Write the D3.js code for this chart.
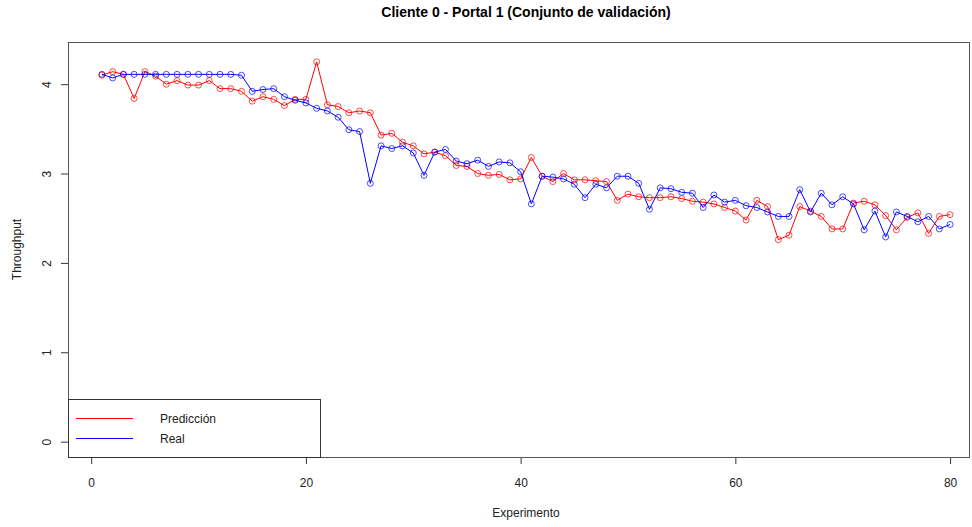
<!DOCTYPE html>
<html>
<head>
<meta charset="utf-8">
<script src="https://cdn.jsdelivr.net/npm/d3@7"></script>
<style>
  html, body { margin: 0; padding: 0; background: #fff; }
  svg { display: block; }
  text { font-family: "Liberation Sans", Arial, sans-serif; fill: #222; }
</style>
</head>
<body>
<svg id="chart" width="972" height="527"></svg>
<script>
// Throughput per experiment: model prediction vs. measured value
const experimentos = d3.range(1, 81);
const prediccion = [
  4.10, 4.14, 4.11, 3.84, 4.14, 4.09, 4.00, 4.04, 3.99, 3.99,
  4.04, 3.95, 3.95, 3.92, 3.81, 3.86, 3.83, 3.76, 3.83, 3.83,
  4.25, 3.77, 3.75, 3.68, 3.70, 3.68, 3.43, 3.45, 3.35, 3.31,
  3.22, 3.24, 3.20, 3.09, 3.08, 3.00, 2.98, 2.99, 2.93, 2.94,
  3.18, 2.97, 2.91, 3.00, 2.93, 2.93, 2.92, 2.91, 2.70, 2.77,
  2.74, 2.73, 2.73, 2.74, 2.72, 2.69, 2.68, 2.66, 2.62, 2.58,
  2.48, 2.70, 2.63, 2.26, 2.31, 2.63, 2.58, 2.52, 2.38, 2.38,
  2.67, 2.69, 2.65, 2.53, 2.37, 2.51, 2.56, 2.33, 2.52, 2.54
];
const real = [
  4.11, 4.07, 4.11, 4.11, 4.11, 4.11, 4.11, 4.11, 4.11, 4.11,
  4.11, 4.11, 4.11, 4.10, 3.92, 3.94, 3.95, 3.86, 3.82, 3.79,
  3.73, 3.70, 3.63, 3.49, 3.47, 2.89, 3.31, 3.28, 3.31, 3.23,
  2.98, 3.24, 3.27, 3.14, 3.11, 3.15, 3.08, 3.13, 3.12, 3.02,
  2.66, 2.97, 2.96, 2.94, 2.88, 2.73, 2.88, 2.84, 2.97, 2.97,
  2.89, 2.60, 2.84, 2.83, 2.79, 2.78, 2.62, 2.76, 2.68, 2.70,
  2.64, 2.62, 2.57, 2.52, 2.52, 2.82, 2.57, 2.78, 2.65, 2.74,
  2.66, 2.37, 2.58, 2.29, 2.57, 2.52, 2.46, 2.52, 2.38, 2.43
];
const xTicks = [0, 20, 40, 60, 80];
const yTicks = [0, 1, 2, 3, 4];
const series = [
  { name: "Predicción", values: prediccion, color: "#FF0000" },
  { name: "Real", values: real, color: "#0000FF" }
];

const svg = d3.select("#chart");
const plot = { left: 68, right: 984, top: 42, bottom: 457 };
const visibleRight = 969;

const x = d3.scaleLinear().domain([-2.16, 83.16]).range([plot.left, plot.right]);
const y = d3.scaleLinear().domain([-0.172, 4.472]).range([plot.bottom, plot.top]);

// Title
svg.append("text")
  .attr("x", (plot.left + plot.right) / 2).attr("y", 17)
  .attr("text-anchor", "middle")
  .style("font-weight", "bold").style("font-size", "14px")
  .style("fill", "#000")
  .text("Cliente 0 - Portal 1 (Conjunto de validación)");

// Axes
const xAxis = d3.axisBottom(x).tickValues(xTicks).tickSize(7).tickPadding(14).tickFormat(d3.format("d"));
const gx = svg.append("g").attr("transform", `translate(0,${plot.bottom})`).call(xAxis);
gx.select(".domain").remove();
gx.selectAll(".tick line").attr("stroke", "#333");
gx.selectAll(".tick text").style("font-size", "12px").style("font-family", "Liberation Sans, Arial, sans-serif").attr("fill", "#222");

const yAxis = d3.axisLeft(y).tickValues(yTicks).tickSize(7).tickFormat(d3.format("d"));
const gy = svg.append("g").attr("transform", `translate(${plot.left},0)`).call(yAxis);
gy.select(".domain").remove();
gy.selectAll(".tick line").attr("stroke", "#333");
gy.selectAll(".tick text")
  .style("font-size", "12px").style("font-family", "Liberation Sans, Arial, sans-serif").attr("fill", "#222")
  .attr("x", 0).attr("dy", 0)
  .attr("text-anchor", "middle")
  .attr("transform", "translate(-17,0) rotate(-90)");

// Axis titles
svg.append("text")
  .attr("x", (plot.left + plot.right) / 2).attr("y", 517)
  .attr("text-anchor", "middle").style("font-size", "12px")
  .text("Experimento");
svg.append("text")
  .attr("transform", `translate(21,${(plot.top + plot.bottom) / 2}) rotate(-90)`)
  .attr("text-anchor", "middle").style("font-size", "12px")
  .text("Throughput");

// Series lines and open circles
const line = d3.line().x((d, i) => x(experimentos[i])).y(d => y(d));
series.forEach(s => {
  const g = svg.append("g");
  g.append("path")
    .attr("d", line(s.values))
    .attr("fill", "none").attr("stroke", s.color).attr("stroke-width", 1);
  g.selectAll("circle").data(s.values).join("circle")
    .attr("cx", (d, i) => x(experimentos[i]))
    .attr("cy", d => y(d))
    .attr("r", 3)
    .attr("fill", "none").attr("stroke", s.color).attr("stroke-opacity", 0.7).attr("stroke-width", 1);
});

// Plot frame
svg.append("rect")
  .attr("x", plot.left + 0.5).attr("y", plot.top + 0.5)
  .attr("width", visibleRight - plot.left).attr("height", plot.bottom - plot.top)
  .attr("fill", "none").attr("stroke", "#555").attr("stroke-width", 1);

// Legend
const leg = svg.append("g");
leg.append("rect")
  .attr("x", plot.left + 0.5).attr("y", 399.5)
  .attr("width", 320 - plot.left).attr("height", plot.bottom - 399)
  .attr("fill", "#fff").attr("stroke", "#333").attr("stroke-width", 1);
series.forEach((s, i) => {
  const ly = 418.5 + i * 20;
  leg.append("line")
    .attr("x1", 76).attr("x2", 133).attr("y1", ly).attr("y2", ly)
    .attr("stroke", s.color).attr("stroke-width", 1);
  leg.append("text")
    .attr("x", 160).attr("y", ly + 4.5)
    .style("font-size", "12px")
    .text(s.name);
});
</script>
</body>
</html>
